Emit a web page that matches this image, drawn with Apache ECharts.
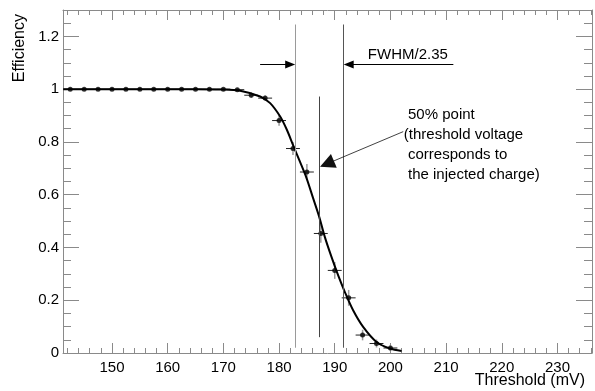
<!DOCTYPE html>
<html>
<head>
<meta charset="utf-8">
<script src="https://cdn.jsdelivr.net/npm/echarts@6/dist/echarts.min.js"></script>
<style>
  html, body { margin: 0; padding: 0; background: #fff; }
  #chart { width: 595px; height: 391px; }
</style>
</head>
<body>
<div id="chart"></div>
<script>
// measured points (threshold scan), bin width 2.5 mV
let thresholds = [142.5, 145, 147.5, 150, 152.5, 155, 157.5, 160, 162.5, 165, 167.5, 170,
  172.5, 175, 177.5, 180, 182.5, 185, 187.5, 190, 192.5, 195, 197.5, 200]
let efficiency = [1, 1, 1, 1, 1, 1, 1, 1, 1, 1, 1, 1,
  0.998, 0.977, 0.966, 0.881, 0.775, 0.686, 0.453, 0.313, 0.209, 0.068, 0.036, 0.019]
let effError = [0, 0, 0, 0, 0, 0, 0, 0, 0, 0, 0, 0,
  0.005, 0.01, 0.01, 0.02, 0.025, 0.03, 0.035, 0.032, 0.03, 0.02, 0.015, 0.012]
let binHalf = 1.25

// fitted curve
let fitX = [141.25, 155, 165, 169.4, 173, 176.6, 178.4, 180.2, 181.4, 182.5, 183.75, 184.95,
  186.1, 187.2, 188.2, 189.4, 190.6, 191.8, 193.3, 195.1, 197.5, 199.9, 202]
let fitY = [1, 1, 1, 0.999, 0.994, 0.972, 0.947, 0.896, 0.846, 0.789, 0.725, 0.662,
  0.588, 0.517, 0.441, 0.365, 0.295, 0.232, 0.162, 0.099, 0.042, 0.017, 0.008]

let sigmaLow = 182.9
let sigmaHigh = 191.6
let halfPoint = 187.2

const font = '"Liberation Sans", Arial, sans-serif'
const frame = '#8a8a8a'

function xAxisDef(pos, withLabels) {
  return {
    type: 'value',
    position: pos,
    min: 141.2,
    max: 236.2,
    splitNumber: 10,
    axisLine: { show: true, onZero: false, lineStyle: { color: frame, width: 1 } },
    axisTick: { show: true, inside: true, length: 10, lineStyle: { color: frame } },
    minorTick: { show: true, splitNumber: 5, length: 5, lineStyle: { color: frame } },
    splitLine: { show: false },
    axisLabel: {
      show: withLabels, showMinLabel: false, showMaxLabel: false,
      color: '#000', fontFamily: font, fontSize: 15, margin: 7
    }
  }
}

function yAxisDef(pos, withLabels) {
  return {
    type: 'value',
    position: pos,
    min: 0,
    max: 1.3,
    splitNumber: 6,
    axisLine: { show: true, onZero: false, lineStyle: { color: frame, width: 1 } },
    axisTick: { show: true, inside: true, length: 16, lineStyle: { color: frame } },
    minorTick: { show: true, splitNumber: 4, length: 8, lineStyle: { color: frame } },
    splitLine: { show: false },
    axisLabel: {
      show: withLabels, showMaxLabel: false,
      color: '#000', fontFamily: font, fontSize: 15, margin: 4
    },
    name: withLabels ? 'Efficiency' : '',
    nameLocation: 'end',
    nameRotate: 90,
    nameGap: -4,
    nameTextStyle: {
      color: '#000', fontFamily: font, fontSize: 16,
      align: 'right', verticalAlign: 'bottom', padding: [0, 0, 35, 0]
    }
  }
}

function errorBars(params, api) {
  let x = api.value(0), y = api.value(1), e = api.value(2)
  let l = api.coord([x - binHalf, y]), r = api.coord([x + binHalf, y])
  let t = api.coord([x, y + e]), b = api.coord([x, y - e])
  return {
    type: 'group',
    children: [
      { type: 'line', shape: { x1: l[0], y1: l[1], x2: r[0], y2: r[1] }, style: { stroke: '#222', lineWidth: 1 } },
      { type: 'line', shape: { x1: t[0], y1: t[1], x2: b[0], y2: b[1] }, style: { stroke: '#999', lineWidth: 1.5 } }
    ]
  }
}

function main() {
  var chart = echarts.init(document.getElementById('chart'), null, { renderer: 'canvas' })

  let points = thresholds.map((x, i) => [x, efficiency[i], effError[i]])
  let fit = fitX.map((x, i) => [x, fitY[i]])

  let arrowLine = { color: '#000', width: 1, type: 'solid' }

  let option = {
    animation: false,
    backgroundColor: '#fff',
    textStyle: { fontFamily: font },
    grid: { left: 63, top: 10, right: 3, bottom: 38, containLabel: false, outerBoundsMode: 'none' },
    xAxis: [xAxisDef('bottom', true), xAxisDef('top', false)],
    yAxis: [yAxisDef('left', true), yAxisDef('right', false)],
    graphic: [
      {
        type: 'text',
        right: 10,
        top: 373,
        style: { text: 'Threshold (mV)', fill: '#000', font: '16px ' + font }
      }
    ],
    series: [
      {
        type: 'custom',
        renderItem: errorBars,
        encode: { x: 0, y: 1 },
        data: points,
        z: 2
      },
      {
        type: 'scatter',
        data: points.map(p => [p[0], p[1]]),
        symbol: 'circle',
        symbolSize: 5,
        itemStyle: { color: '#000' },
        z: 4
      },
      {
        type: 'line',
        data: fit,
        smooth: 0.3,
        showSymbol: false,
        lineStyle: { color: '#000', width: 2 },
        z: 3,
        markLine: {
          silent: true,
          symbol: 'none',
          label: { show: false },
          data: [
            [{ coord: [sigmaLow, 0.02], lineStyle: { color: '#9a9a9a', width: 1, type: 'solid' } },
             { coord: [sigmaLow, 1.245] }],
            [{ coord: [sigmaHigh, 0.02], lineStyle: { color: '#555', width: 1, type: 'solid' } },
             { coord: [sigmaHigh, 1.245] }],
            [{ coord: [halfPoint, 0.06], lineStyle: { color: '#444', width: 1, type: 'solid' } },
             { coord: [halfPoint, 0.972] }],
            [{ coord: [176.6, 1.093], symbol: 'none', lineStyle: arrowLine },
             { coord: [182.0, 1.093], symbol: 'triangle', symbolSize: [8, 10] }],
            [{ coord: [211.3, 1.093], symbol: 'none', lineStyle: arrowLine },
             { coord: [192.5, 1.093], symbol: 'triangle', symbolSize: [8, 10] }],
            [{ coord: [202.3, 0.839], symbol: 'none', lineStyle: { color: '#111', width: 0.8, type: 'solid' } },
             { coord: [188.6, 0.717], symbol: 'triangle', symbolSize: [15, 15] }]
          ]
        },
        markPoint: {
          silent: true,
          symbol: 'circle',
          symbolSize: 0,
          label: {
            show: true, position: 'right', distance: 0,
            color: '#000', fontFamily: font, fontSize: 15, align: 'left'
          },
          data: [
            { coord: [195.95, 1.131], label: { formatter: 'FWHM/2.35' } },
            { coord: [202.41, 0.789], label: {
                formatter: ' 50% point\n(threshold voltage\n corresponds to\n the injected charge)',
                lineHeight: 20 } }
          ]
        }
      }
    ]
  }
  chart.setOption(option)
}

main()
</script>
</body>
</html>
